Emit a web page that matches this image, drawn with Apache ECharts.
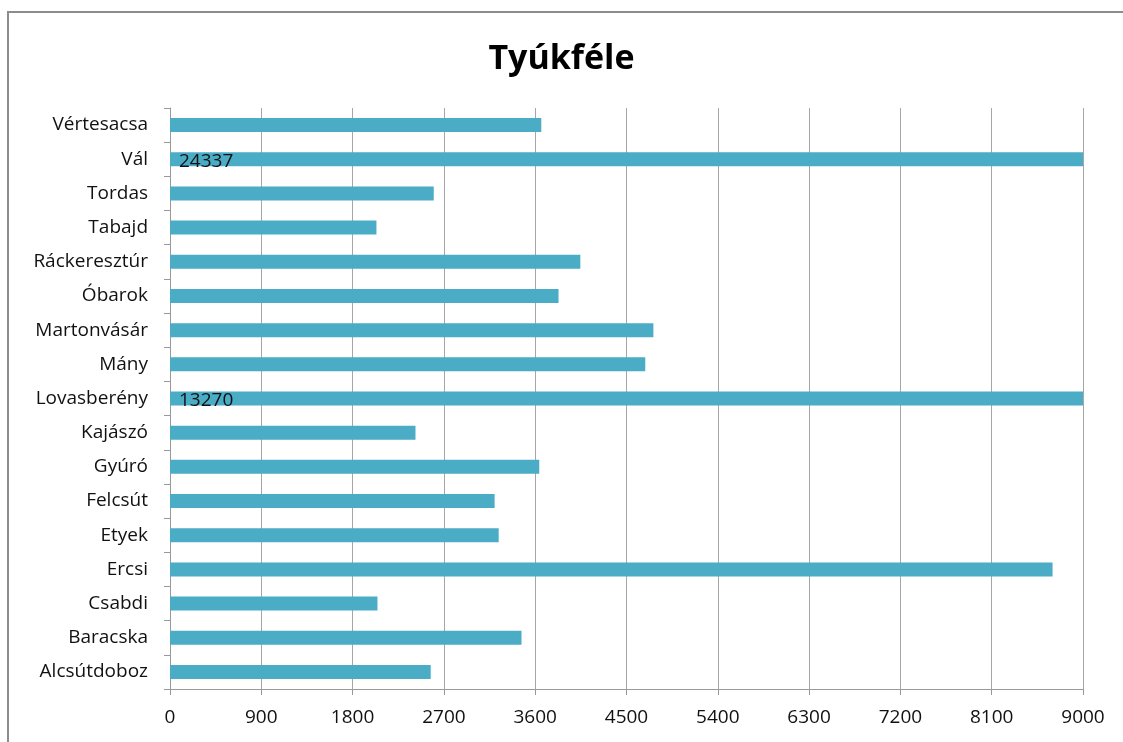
<!DOCTYPE html>
<html>
<head>
<meta charset="utf-8">
<script src="https://cdn.jsdelivr.net/npm/echarts@6/dist/echarts.min.js"></script>
<style>
html,body{margin:0;padding:0;background:#fff;}
#frame{position:absolute;left:7px;top:11px;width:1130px;height:740px;border:2px solid #8c8c8c;box-sizing:border-box;}
#chart{position:absolute;left:0;top:0;width:1123px;height:742px;}
</style>
</head>
<body>
<div id="frame"></div>
<div id="chart"></div>
<script>
// kategóriák alulról felfelé
var telepulesek = ['Alcsútdoboz','Baracska','Csabdi','Ercsi','Etyek','Felcsút','Gyúró','Kajászó','Lovasberény','Mány','Martonvásár','Óbarok','Ráckeresztúr','Tabajd','Tordas','Vál','Vértesacsa'];
var ertekek = [2570, 3465, 2045, 8700, 3240, 3200, 3640, 2420, 13270, 4685, 4765, 3830, 4045, 2035, 2600, 24337, 3660];
var tengelyMax = 9000;
var lepes = 900;

var chart = echarts.init(document.getElementById('chart'));
var font = '"Open Sans", "DejaVu Sans", sans-serif';

var adat = [];
for (var i = 0; i < ertekek.length; i++) {
    var d = { value: ertekek[i] };
    if (ertekek[i] > tengelyMax) {   // túllógó oszlopok: érték felirattal
        d.label = { show: true, position: 'insideLeft', offset: [4, 2], color: '#111', fontSize: 19, fontFamily: font, formatter: '{c}' };
    }
    adat.push(d);
}

chart.setOption({
    animation: false,
    title: {
        text: 'Tyúkféle',
        left: 'center',
        top: 37,
        textStyle: { fontFamily: font, fontWeight: 'bold', fontSize: 34, color: '#000' }
    },
    grid: { left: 170, right: 40, top: 108, bottom: 53, containLabel: false },
    xAxis: {
        type: 'value',
        min: 0,
        max: tengelyMax,
        interval: lepes,
        axisLine: { show: true, lineStyle: { color: '#999' } },
        axisTick: { show: true, length: 6, lineStyle: { color: '#999' } },
        axisLabel: { color: '#111', fontSize: 19, fontFamily: font, margin: 19, formatter: function (v) { return String(v); } },
        splitLine: { show: true, lineStyle: { color: '#a6a6a6', width: 1 } }
    },
    yAxis: {
        type: 'category',
        data: telepulesek,
        axisLine: { show: true, lineStyle: { color: '#999' } },
        axisTick: { show: true, length: 6, lineStyle: { color: '#999' } },
        axisLabel: { color: '#111', fontSize: 19, fontFamily: font, margin: 22, padding: [3, 0, 0, 0] }
    },
    series: [{
        type: 'bar',
        data: adat,
        barWidth: 14,
        clip: true,
        itemStyle: { color: '#4bacc6' }
    }]
});
</script>
</body>
</html>
